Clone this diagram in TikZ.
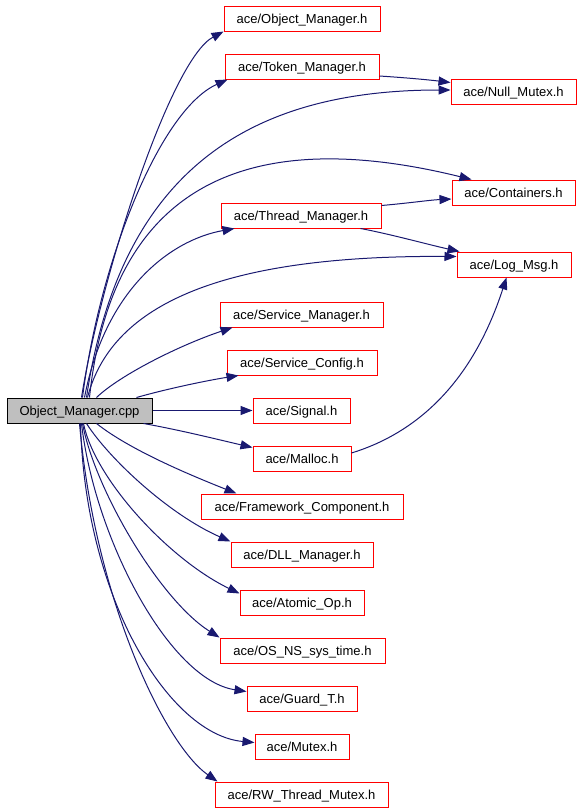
\documentclass[tikz,border=0pt]{standalone}
\usepackage{fontspec}
\setmainfont{Liberation Sans}
\usetikzlibrary{arrows.meta,calc}
\definecolor{edgeblue}{RGB}{25,25,112}
\definecolor{boxred}{RGB}{255,0,0}
\definecolor{cppgray}{RGB}{191,191,191}
\newcommand\mkbox[7]{%
  \node[#1, minimum width={(#5-#3)*0.75pt}, minimum height={(#6-#4)*0.75pt}] (#2) at ({(#3+#5)/2},{(#4+#6)/2}) {#7};}
\tikzset{
  hdr/.style={draw=boxred, line width=0.75pt, inner sep=0pt, text=black,
    text height=8.7pt, text depth=1.5pt,
    font=\fontsize{9.75pt}{11pt}\selectfont},
  srcbox/.style={hdr, draw=black, fill=cppgray},
  dep/.style={draw=edgeblue, line width=0.75pt, -{Triangle[length=9pt,width=6.8pt]}}
}
\begin{document}
\begin{tikzpicture}[x=0.75pt, y=-0.75pt]
\useasboundingbox (0,0) rectangle (581,811);
% nodes
\mkbox{srcbox}{cpp}{7}{398}{152}{423}{Object\_Manager.cpp}
\mkbox{hdr}{objm}{224}{6}{380}{31}{ace/Object\_Manager.h}
\mkbox{hdr}{tokm}{225}{54}{379}{79}{ace/Token\_Manager.h}
\mkbox{hdr}{null}{451}{79}{576}{104}{ace/Null\_Mutex.h}
\mkbox{hdr}{cont}{452}{180}{575}{205}{ace/Containers.h}
\mkbox{hdr}{thrm}{221}{203}{381}{228}{ace/Thread\_Manager.h}
\mkbox{hdr}{logm}{457}{252}{571}{277}{ace/Log\_Msg.h}
\mkbox{hdr}{svcm}{220}{302}{383}{327}{ace/Service\_Manager.h}
\mkbox{hdr}{svcc}{227}{350}{377}{375}{ace/Service\_Config.h}
\mkbox{hdr}{sig}{253}{398}{350}{423}{ace/Signal.h}
\mkbox{hdr}{mal}{253}{446}{351}{471}{ace/Malloc.h}
\mkbox{hdr}{fwc}{201}{494}{403}{519}{ace/Framework\_Component.h}
\mkbox{hdr}{dll}{231}{542}{373}{567}{ace/DLL\_Manager.h}
\mkbox{hdr}{atom}{240}{590}{364}{615}{ace/Atomic\_Op.h}
\mkbox{hdr}{ostime}{220}{638}{385}{663}{ace/OS\_NS\_sys\_time.h}
\mkbox{hdr}{guard}{247}{686}{357}{711}{ace/Guard\_T.h}
\mkbox{hdr}{mutex}{255}{734}{349}{759}{ace/Mutex.h}
\mkbox{hdr}{rw}{215}{782}{388}{807}{ace/RW\_Thread\_Mutex.h}
% edges from cpp (upwards)
\draw[dep] ($(cpp.north west)+(75,0)$) .. controls (100,280) and (170,60) .. (objm.south west);
\draw[dep] ($(cpp.north west)+(76,0)$) .. controls (100,260) and (160,110) .. ($(tokm.south west)+(3,0)$);
\draw[dep] ($(cpp.north west)+(80,0)$) .. controls (120,170) and (250,90) .. ($(null.west)+(0,-1.5)$);
\draw[dep] ($(cpp.north west)+(83,0)$) .. controls (110,200) and (230,120) .. ($(cont.north west)+(20,0)$);
\draw[dep] ($(cpp.north west)+(78,0)$) .. controls (105,290) and (170,240) .. ($(thrm.south west)+(14,0)$);
\draw[dep] ($(cpp.north west)+(81,0)$) .. controls (110,310) and (210,255) .. ($(logm.north west)+(0,5)$);
\draw[dep] ($(cpp.north west)+(90,0)$) .. controls (120,375) and (180,345) .. ($(svcm.south west)+(13,0)$);
\draw[dep] ($(cpp.north west)+(130,0)$) .. controls (170,388) and (210,380) .. ($(svcc.south west)+(12,0)$);
\draw[dep] (cpp.east) -- (sig.west);
% edges from cpp (downwards)
\draw[dep] ($(cpp.south east)+(-9,0)$) .. controls (180,430) and (220,440) .. ($(mal.north west)+(0,2)$);
\draw[dep] ($(cpp.south west)+(90,0)$) .. controls (130,450) and (190,475) .. ($(fwc.north west)+(36,0)$);
\draw[dep] ($(cpp.south west)+(80,0)$) .. controls (110,460) and (170,515) .. (dll.north west);
\draw[dep] ($(cpp.south west)+(77,0)$) .. controls (95,480) and (170,560) .. ($(atom.north west)+(0,4)$);
\draw[dep] ($(cpp.south west)+(76,0)$) .. controls (95,490) and (160,600) .. (ostime.north west);
\draw[dep] ($(cpp.south west)+(75,0)$) .. controls (95,540) and (170,680) .. ($(guard.north west)+(0,6)$);
\draw[dep] ($(cpp.south west)+(74,0)$) .. controls (85,600) and (170,735) .. ($(mutex.north west)+(0,9)$);
\draw[dep] ($(cpp.south west)+(73,0)$) .. controls (95,600) and (165,745) .. ($(rw.north west)+(3,0)$);
% edges between headers
\draw[dep] ($(tokm.east)+(0,9.5)$) .. controls (410,78) and (430,80) .. ($(null.north west)+(0,4)$);
\draw[dep] ($(thrm.north east)+(0,3)$) .. controls (410,203) and (430,200) .. ($(cont.west)+(0,6.5)$);
\draw[dep] ($(thrm.south east)+(-21,0)$) .. controls (390,234) and (430,245) .. ($(logm.north west)+(3,0)$);
\draw[dep] ($(mal.east)+(0,-5.5)$) .. controls (410,435) and (470,390) .. ($(logm.south west)+(50,0)$);
\end{tikzpicture}
\end{document}
